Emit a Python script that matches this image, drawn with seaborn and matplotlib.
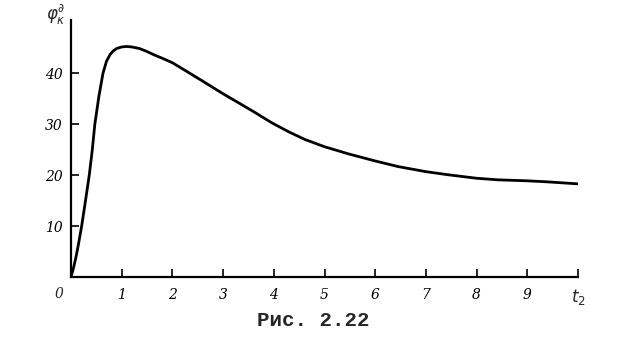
import matplotlib
matplotlib.use("Agg")
import matplotlib.pyplot as plt
import pandas as pd
import seaborn as sns

# values
t_vals = [0, 0.05, 0.1, 0.15, 0.21, 0.28, 0.36, 0.42, 0.47, 0.55, 0.63, 0.7,
          0.77, 0.83, 0.9, 1.0, 1.1, 1.2, 1.35, 1.5, 1.65, 1.82, 2.0,
          2.3, 2.66, 3.0, 3.31, 3.65, 3.96, 4.3, 4.62, 5.0, 5.47, 6.0, 6.45,
          7.0, 7.43, 8.0, 8.41, 9.0, 9.39, 10.0]
phi_vals = [0, 1.8, 4, 6.6, 10, 14.6, 20, 25, 30, 35.5, 40, 42.4,
            43.7, 44.4, 44.9, 45.2, 45.3, 45.2, 44.9, 44.3, 43.6, 42.9, 42.1,
            40.3, 38.1, 36.0, 34.2, 32.2, 30.3, 28.5, 27.0, 25.6, 24.2, 22.8, 21.7,
            20.7, 20.1, 19.4, 19.1, 18.9, 18.7, 18.3]
x_ticks = [1, 2, 3, 4, 5, 6, 7, 8, 9]
y_ticks = [10, 20, 30, 40]

df = pd.DataFrame({"t": t_vals, "phi": phi_vals})

sns.set_style("white")
fig = plt.figure(figsize=(6.26, 3.41), dpi=100)
ax = fig.add_axes([71 / 626, 64 / 341, (578 - 71) / 626, (277 - 20) / 341])

sns.lineplot(data=df, x="t", y="phi", ax=ax, color="black", linewidth=2)

ax.set_xlim(0, 10)
ax.set_ylim(0, 50.5)
ax.set_xlabel("")
ax.set_ylabel("")

for side in ["top", "right"]:
    ax.spines[side].set_visible(False)
for side in ["left", "bottom"]:
    ax.spines[side].set_color("black")
    ax.spines[side].set_linewidth(1.6)

tick_font = dict(family="DejaVu Serif", style="italic", size=10)
ax.set_xticks(x_ticks + [10])
ax.set_xticklabels([str(v) for v in x_ticks] + [""], **tick_font)
ax.set_yticks(y_ticks)
ax.set_yticklabels([str(v) for v in y_ticks], **tick_font)
ax.tick_params(axis="both", direction="in", length=6, width=1.2, colors="black",
               bottom=True, left=True)
ax.tick_params(axis="x", pad=8)
ax.tick_params(axis="y", pad=6)

ax.text(-0.15, -2.0, "0", ha="right", va="top", **tick_font)
ax.text(10.0, -2.0, r"$t_2$", ha="center", va="top", fontsize=12)
ax.text(-0.1, 51.5, r"$\varphi_\kappa^\partial$", ha="right", va="center", fontsize=12)

fig.text(313 / 626, 1 - 320 / 341, "Рис. 2.22", ha="center", va="center",
         family="Liberation Mono", weight="bold", size=15)

fig.savefig("out.png", dpi=100)
